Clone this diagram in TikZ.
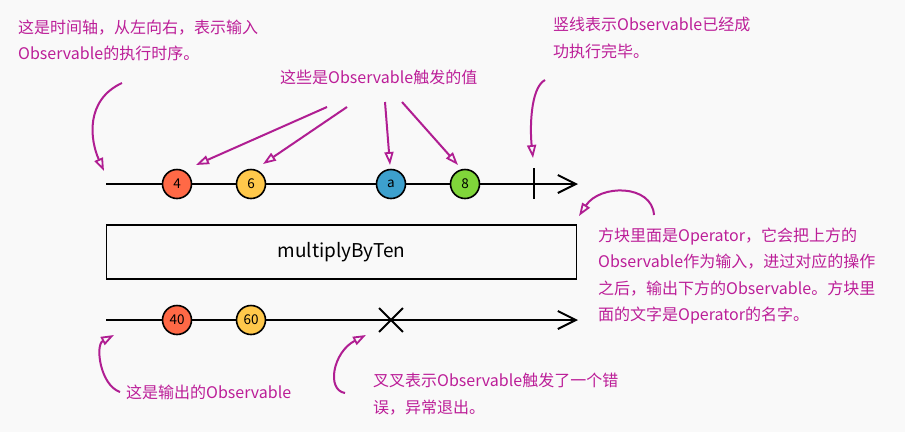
\documentclass[tikz,border=0pt]{standalone}
\usepackage{fontspec}
\setmainfont{Noto Sans CJK SC}
\usetikzlibrary{arrows.meta,shapes.misc}
\definecolor{bg}{RGB}{249,249,249}
\definecolor{txt}{RGB}{188,30,152}
\definecolor{acol}{RGB}{176,30,146}
\definecolor{cred}{RGB}{255,105,70}
\definecolor{cyel}{RGB}{255,200,75}
\definecolor{cblu}{RGB}{61,160,205}
\definecolor{cgrn}{RGB}{128,214,58}
\tikzset{
  tl/.style={line width=2pt,-{Straight Barb[length=18pt,width=18pt,line width=2pt]}},
  ev/.style={circle,draw,line width=1.6pt,minimum size=29pt,inner sep=0pt,font=\fontsize{13.5}{13.5}\selectfont},
  note/.style={anchor=base west,inner sep=0pt,text=txt,font=\fontsize{16}{16}\selectfont},
  call/.style={draw=acol,line width=2pt,-{Triangle[open,length=13pt,width=9pt,line width=1.8pt]}},
}
\begin{document}
\begin{tikzpicture}[x=1pt,y=-1pt]
\useasboundingbox[fill=bg] (0,0) rectangle (905,432);
% top timeline
\coordinate (s1) at (106,184);
\coordinate (e1) at (578,184);
\draw[tl] (s1) -- (e1);
\node[ev,fill=cred] (c4) at (177,184) {4};
\node[ev,fill=cyel] (c6) at (251,184) {6};
\node[ev,fill=cblu] (ca) at (391,184) {a};
\node[ev,fill=cgrn] (c8) at (465,184) {8};
\coordinate (b1) at (534,168);
\coordinate (b2) at (534,199);
\draw[line width=2pt] (b1) -- (b2);
% operator box
\node[draw,line width=1.6pt,minimum width=470pt,minimum height=54pt,inner sep=0pt,font=\fontsize{19}{19}\selectfont] (op) at (341.5,252) {multiplyByTen};
% bottom timeline
\coordinate (s2) at (106,320);
\coordinate (e2) at (578,320);
\draw[tl] (s2) -- (e2);
\node[ev,fill=cred] (c40) at (177,320) {40};
\node[ev,fill=cyel] (c60) at (251,320) {60};
\node[cross out,draw,line width=1.8pt,minimum size=22pt,inner sep=0pt] (err) at (391,320) {};
% notes
\node[note] (n1a) at (18,33) {这是时间轴，从左向右，表示输入};
\node[note] (n1b) at (18,59) {Observable的执行时序。};
\node[note] (n2) at (280,83) {这些是Observable触发的值};
\node[note] (n3a) at (553,30) {竖线表示Observable已经成};
\node[note] (n3b) at (553,57) {功执行完毕。};
\node[note] (n4a) at (598,241) {方块里面是Operator，它会把上方的};
\node[note] (n4b) at (598,267) {Observable作为输入，进过对应的操作};
\node[note] (n4c) at (598,294) {之后，输出下方的Observable。方块里};
\node[note] (n4d) at (598,320) {面的文字是Operator的名字。};
\node[note] (n5) at (126,398) {这是输出的Observable};
\node[note] (n6a) at (373,386) {叉叉表示Observable触发了一个错};
\node[note] (n6b) at (373,413) {误，异常退出。};
% callout arrows
\coordinate (a1s) at (122,83);  \coordinate (a1e) at (104,171);
\draw[call] (a1s) .. controls (85,100) and (90,140) .. (a1e);
\coordinate (a2s) at (327,107); \coordinate (a2e) at (196,165);
\draw[call] (a2s) -- (a2e);
\coordinate (a3s) at (347,107); \coordinate (a3e) at (263,164);
\draw[call] (a3s) -- (a3e);
\coordinate (a4s) at (385,102); \coordinate (a4e) at (390,165);
\draw[call] (a4s) -- (a4e);
\coordinate (a5s) at (402,102); \coordinate (a5e) at (458,165);
\draw[call] (a5s) -- (a5e);
\coordinate (a6s) at (545,80);  \coordinate (a6e) at (533,158);
\draw[call] (a6s) .. controls (530,88) and (530,130) .. (a6e);
\coordinate (a7s) at (654,215); \coordinate (a7e) at (579,216);
\draw[call] (a7s) .. controls (652,184) and (600,184) .. (a7e);
\coordinate (a8s) at (120,392); \coordinate (a8e) at (114,335);
\draw[call] (a8s) .. controls (100,385) and (95,345) .. (a8e);
\coordinate (a9s) at (345,393); \coordinate (a9e) at (366,335);
\draw[call] (a9s) .. controls (326,390) and (333,352) .. (a9e);
\end{tikzpicture}
\end{document}
